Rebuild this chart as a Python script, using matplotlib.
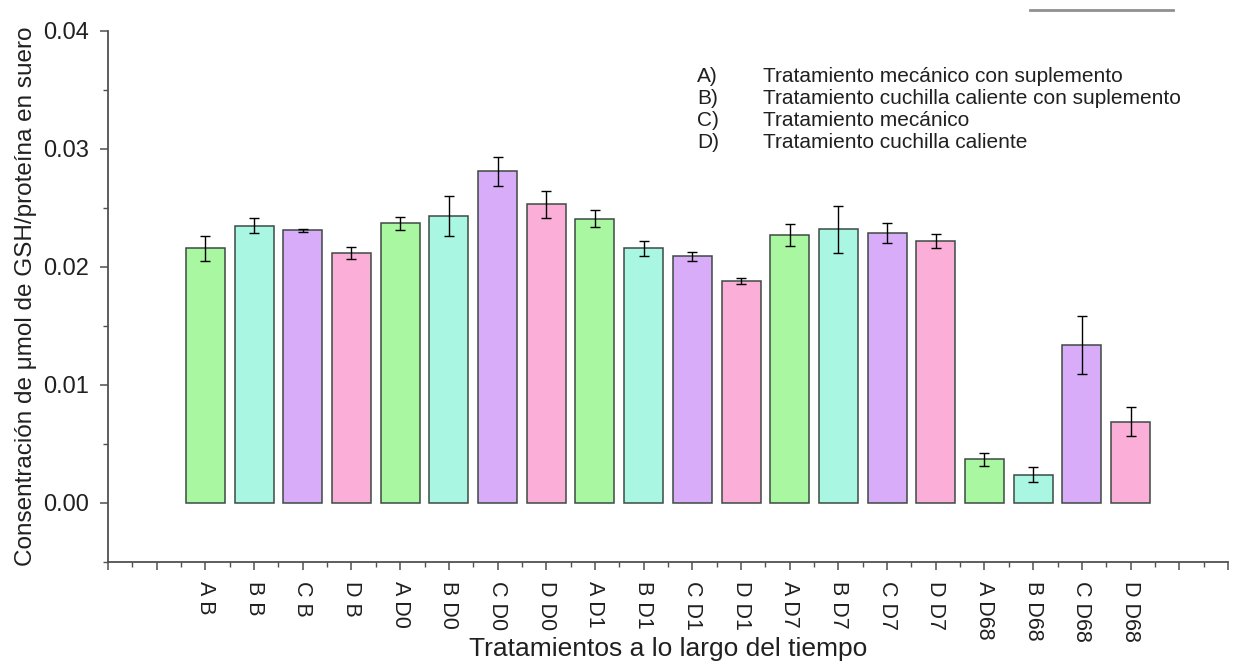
import matplotlib.pyplot as plt
from matplotlib.lines import Line2D
from matplotlib.ticker import MultipleLocator

labels = ["A B", "B B", "C B", "D B",
          "A D0", "B D0", "C D0", "D D0",
          "A D1", "B D1", "C D1", "D D1",
          "A D7", "B D7", "C D7", "D D7",
          "A D68", "B D68", "C D68", "D D68"]
values = [0.0216, 0.0235, 0.0231, 0.0212,
          0.0237, 0.0243, 0.0281, 0.0253,
          0.0241, 0.0216, 0.0209, 0.0188,
          0.0227, 0.0232, 0.0229, 0.0222,
          0.0037, 0.0024, 0.0134, 0.0069]
errors = [0.00105, 0.00066, 0.0001, 0.0005,
          0.00057, 0.0017, 0.00123, 0.00116,
          0.0007, 0.00064, 0.00037, 0.00028,
          0.00094, 0.002, 0.00086, 0.0006,
          0.00055, 0.00065, 0.00244, 0.0012]
group_colors = ["#a9f7a1", "#a9f7e3", "#d8acf9", "#fbaed8"]
legend_keys = ["A)", "B)", "C)", "D)"]
legend_texts = ["Tratamiento mecánico con suplemento",
                "Tratamiento cuchilla caliente con suplemento",
                "Tratamiento mecánico",
                "Tratamiento cuchilla caliente"]

plt.rcParams["font.family"] = ["Liberation Sans", "DejaVu Sans"]
axis_color = "#505050"
text_color = "#202020"

fig = plt.figure(figsize=(12.37, 6.68), dpi=100)
ax = fig.add_axes([0.0873, 0.1587, 0.9054, 0.7949])

x = list(range(len(values)))
colors = [group_colors[i % 4] for i in x]
ax.bar(x, values, width=0.8, color=colors, edgecolor="#3c4a42", linewidth=1.1,
       yerr=errors, capsize=3.6,
       error_kw={"ecolor": "black", "elinewidth": 1.0, "capthick": 1.0})

ax.set_xlim(-2, 21)
ax.set_ylim(-0.005, 0.04)

ax.set_xticks(range(-2, 22))
ax.set_xticklabels(["", ""] + labels + ["", ""], rotation=-90, fontsize=15.5,
                   color=text_color)
ax.xaxis.set_minor_locator(MultipleLocator(0.5))
ax.set_yticks([0.0, 0.01, 0.02, 0.03, 0.04])
ax.set_yticklabels(["0.00", "0.01", "0.02", "0.03", "0.04"], fontsize=17,
                   color=text_color)
ax.yaxis.set_minor_locator(MultipleLocator(0.005))

ax.tick_params(which="major", length=6, width=1.1, color=axis_color, pad=8)
ax.tick_params(which="minor", length=3.5, width=1.0, color=axis_color)
ax.tick_params(axis="x", which="major", pad=8)

for side in ["top", "right"]:
    ax.spines[side].set_visible(False)
for side in ["left", "bottom"]:
    ax.spines[side].set_color(axis_color)
    ax.spines[side].set_linewidth(1.3)

ax.set_xlabel("Tratamientos a lo largo del tiempo", fontsize=19, va="top",
              color=text_color)
ax.xaxis.set_label_coords(0.5, -0.142)
ax.set_ylabel("Consentración de μmol de GSH/proteína en suero", fontsize=17.5,
              labelpad=4, color=text_color)

for i in range(4):
    y = 0.885 - i * 0.033
    fig.text(0.5635, y, legend_keys[i], fontsize=15, va="center", color=text_color)
    fig.text(0.617, y, legend_texts[i], fontsize=15, va="center", color=text_color)

fig.add_artist(Line2D([0.833, 0.948], [0.985, 0.985], color="#909090", linewidth=2))

fig.savefig("out.png", dpi=100)
